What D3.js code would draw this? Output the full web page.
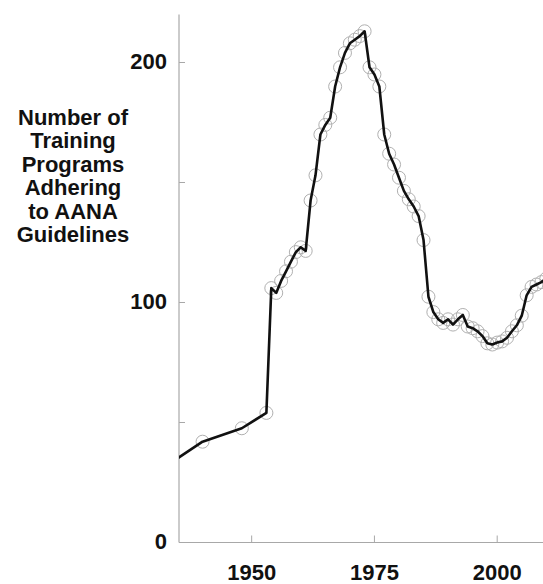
<!DOCTYPE html>
<html>
<head>
<meta charset="utf-8">
<script src="https://cdnjs.cloudflare.com/ajax/libs/d3/7.8.5/d3.min.js"></script>
<style>
    body { margin: 0; background: #fff; }
    svg { display: block; }
    .tickLabel, .axisTitle { font-family: "Liberation Sans", Arial, sans-serif; font-weight: bold; fill: #111; }
</style>
</head>
<body>
<script>
//years and number of programs
var years = [1933, 1940, 1948, 1953, 1954, 1955, 1956, 1957, 1958, 1959, 1960, 1961,
    1962, 1963, 1964, 1965, 1966, 1967, 1968, 1969, 1970, 1971, 1972, 1973,
    1974, 1975, 1976, 1977, 1978, 1979, 1980, 1981, 1982, 1983, 1984, 1985,
    1986, 1987, 1988, 1989, 1990, 1991, 1992, 1993, 1994, 1995, 1996, 1997,
    1998, 1999, 2000, 2001, 2002, 2003, 2004, 2005, 2006, 2007, 2008, 2009, 2010];
var programs = [32.5, 42, 47.6, 54, 106, 104, 109, 113, 117, 121, 123, 121.5,
    142.5, 153, 170, 174, 177, 190, 198, 204, 208, 209.5, 211, 213,
    198, 195, 190, 170, 162, 157.5, 152, 146.5, 143, 140, 136, 126,
    102.4, 96, 93, 91.5, 93, 90.8, 93, 94.8, 90, 89.3, 88, 86,
    83, 82.5, 83.3, 83.8, 85.3, 88, 90.5, 94.5, 103, 106.5, 107.5, 108.5, 110];
var xTicks = [1950, 1975, 2000];
var yTicks = [0, 50, 100, 150, 200];
var yLabels = [0, 100, 200];
var titleLines = ["Number of", "Training", "Programs", "Adhering", "to AANA", "Guidelines"];

window.onload = setChart();

function setChart(){
    var width = 543,
        height = 584;

    var svg = d3.select("body")
        .append("svg")
        .attr("width", width)
        .attr("height", height);

    //scales (1950 -> 251.7px, about 4.91px per year)
    var x = d3.scaleLinear()
        .domain([1935, 2010])
        .range([178, 546.3]);

    var y = d3.scaleLinear()
        .domain([0, 220])
        .range([542.5, 14.5]);

    var data = years.map(function(d, i){
        return {year: d, value: programs[i]};
    });

    //clip the plot to the area right of the y axis
    svg.append("clipPath")
        .attr("id", "plotClip")
        .append("rect")
        .attr("x", 179)
        .attr("y", 0)
        .attr("width", width - 179)
        .attr("height", height);

    var axisColor = "#a8a8a8";

    //y axis line and inward ticks
    svg.append("line")
        .attr("x1", 179).attr("x2", 179)
        .attr("y1", y(220)).attr("y2", y(0))
        .attr("stroke", axisColor)
        .attr("stroke-width", 1.2);

    svg.selectAll(".yTick")
        .data(yTicks)
        .enter()
        .append("line")
        .attr("class", "yTick")
        .attr("x1", 179).attr("x2", 185)
        .attr("y1", function(d){ return y(d); })
        .attr("y2", function(d){ return y(d); })
        .attr("stroke", axisColor)
        .attr("stroke-width", 1);

    svg.selectAll(".yLabel")
        .data(yLabels)
        .enter()
        .append("text")
        .attr("class", "tickLabel")
        .attr("x", 167)
        .attr("y", function(d){ return y(d) + 6.5; })
        .attr("text-anchor", "end")
        .style("font-size", "22px")
        .text(function(d){ return d; });

    //x axis line and inward ticks
    svg.append("line")
        .attr("x1", 179).attr("x2", width)
        .attr("y1", y(0)).attr("y2", y(0))
        .attr("stroke", axisColor)
        .attr("stroke-width", 1.2);

    svg.selectAll(".xTick")
        .data(xTicks)
        .enter()
        .append("line")
        .attr("class", "xTick")
        .attr("x1", function(d){ return x(d); })
        .attr("x2", function(d){ return x(d); })
        .attr("y1", y(0)).attr("y2", y(0) - 7)
        .attr("stroke", axisColor)
        .attr("stroke-width", 1);

    svg.selectAll(".xLabel")
        .data(xTicks)
        .enter()
        .append("text")
        .attr("class", "tickLabel")
        .attr("x", function(d){ return x(d); })
        .attr("y", 579.5)
        .attr("text-anchor", "middle")
        .style("font-size", "22px")
        .text(function(d){ return d; });

    //y axis title, one line per row
    svg.selectAll(".axisTitle")
        .data(titleLines)
        .enter()
        .append("text")
        .attr("class", "axisTitle")
        .attr("x", 73)
        .attr("y", function(d, i){ return 125 + i * 23.4; })
        .attr("text-anchor", "middle")
        .style("font-size", "22px")
        .text(function(d){ return d; });

    var plot = svg.append("g")
        .attr("clip-path", "url(#plotClip)");

    //open circles under the line
    plot.selectAll(".marker")
        .data(data.slice(1))
        .enter()
        .append("circle")
        .attr("class", "marker")
        .attr("cx", function(d){ return x(d.year); })
        .attr("cy", function(d){ return y(d.value); })
        .attr("r", 6.5)
        .attr("fill", "none")
        .attr("stroke", "#b0b0b0")
        .attr("stroke-width", 1);

    var line = d3.line()
        .x(function(d){ return x(d.year); })
        .y(function(d){ return y(d.value); });

    plot.append("path")
        .datum(data)
        .attr("d", line)
        .attr("fill", "none")
        .attr("stroke", "#111")
        .attr("stroke-width", 2.6)
        .attr("stroke-linejoin", "round");
}
</script>
</body>
</html>
